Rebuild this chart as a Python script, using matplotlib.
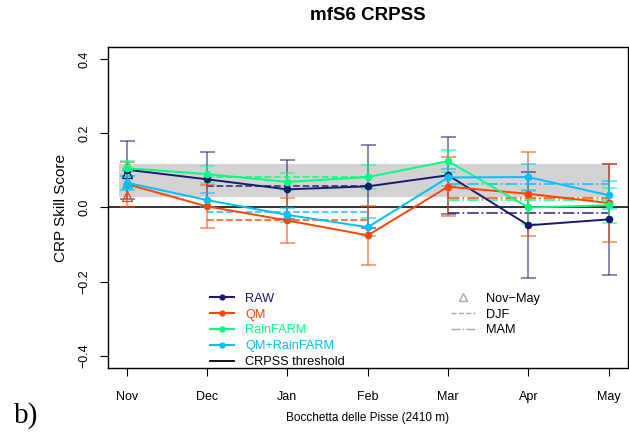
import numpy as np
import matplotlib.pyplot as plt
from matplotlib.lines import Line2D

plt.rcParams['font.family'] = ['Liberation Sans', 'DejaVu Sans']

months = ['Nov', 'Dec', 'Jan', 'Feb', 'Mar', 'Apr', 'May']

# monthly CRPSS and half-width of the error bars
raw = [0.102, 0.076, 0.049, 0.057, 0.087, -0.048, -0.032]
raw_err = [0.078, 0.075, 0.080, 0.111, 0.104, 0.143, 0.149]
qm = [0.063, 0.003, -0.035, -0.075, 0.056, 0.037, 0.012]
qm_err = [0.061, 0.057, 0.060, 0.080, 0.080, 0.114, 0.106]
rf = [0.106, 0.090, 0.069, 0.082, 0.125, 0.000, 0.006]
rf_err = [0.020, 0.023, 0.023, 0.032, 0.030, 0.045, 0.047]
qmrf = [0.067, 0.020, -0.020, -0.053, 0.081, 0.082, 0.033]
qmrf_err = [0.019, 0.018, 0.019, 0.024, 0.022, 0.036, 0.038]

# seasonal scores: Nov-May, DJF, MAM
novmay = [0.093, 0.032, 0.115, 0.065]
djf = [0.058, -0.033, 0.082, -0.012]
mam = [-0.0135, 0.025, 0.020, 0.063]

# CRPSS threshold band
band_lo, band_hi = 0.0285, 0.1166

names = ['RAW', 'QM', 'RainFARM', 'QM+RainFARM']
colors = ['#191970', '#FF4500', '#00FF7F', '#00BFFF']
series = [raw, qm, rf, qmrf]
errors = [raw_err, qm_err, rf_err, qmrf_err]

fig = plt.figure(figsize=(6.29, 4.48), dpi=100)
ax = fig.add_axes([107.5 / 629, 1 - 367.7 / 448, 520.5 / 629, 320.4 / 448])

x = np.arange(1, len(months) + 1)

ax.fill_between([0.9, 7.0], band_lo, band_hi, color='#d3d3d3', lw=0, zorder=0)
ax.axhline(0, color='#222222', lw=1.3, zorder=1)

for i, (y, e, c) in enumerate(zip(series, errors, colors)):
    ax.errorbar(x, y, yerr=e, fmt='none', ecolor=c, alpha=0.65, elinewidth=1.1,
                capsize=5.4, capthick=1.1, zorder=2)
    ax.plot(x, y, '-o', color=c, lw=1.4, ms=4.5, zorder=3)
    ax.plot(x[0], novmay[i], '^', mfc='none', mec=c, ms=7, mew=1.0, zorder=3)
    ax.plot(x[1:4], [djf[i]] * 3, '--', color=c, lw=1.3, alpha=0.8, zorder=2)
    ax.plot(x[4:7], [mam[i]] * 3, '-.', color=c, lw=1.3, alpha=0.8, zorder=2)

ax.set_xlim(0.76, 7.24)
ax.set_ylim(-0.432, 0.432)
ax.set_xticks(x)
ax.set_xticklabels(months, fontsize=9)
ax.set_yticks([-0.4, -0.2, 0.0, 0.2, 0.4])
ax.set_yticklabels(['\u22120.4', '\u22120.2', '0.0', '0.2', '0.4'],
                   fontsize=9, rotation=90, va='center')
ax.tick_params(axis='x', length=6, pad=11)
ax.tick_params(axis='y', length=6, pad=6)
for s in ax.spines.values():
    s.set_linewidth(1.0)

ax.set_ylabel('CRP Skill Score', fontsize=11, labelpad=8)
fig.text(367.7 / 629, 1 - 15 / 448, 'mfS6 CRPSS', fontsize=13.5,
         fontweight='bold', ha='center', va='center')

handles = [Line2D([], [], color=c, marker='o', ms=3.5, lw=1.5) for c in colors]
handles.append(Line2D([], [], color='black', lw=1.3))
leg1 = ax.legend(handles, names + ['CRPSS threshold'], loc='upper left',
                 bbox_to_anchor=(0.197, 0.234), frameon=False, fontsize=9.2,
                 handlelength=1.9, handletextpad=0.85, labelspacing=0.3,
                 borderpad=0, borderaxespad=0,
                 labelcolor=colors + ['black'])
ax.add_artist(leg1)

h2 = [Line2D([], [], color='#aaaaaa', marker='^', mfc='none', ms=6, lw=0),
      Line2D([], [], color='#aaaaaa', ls='--', lw=1.0),
      Line2D([], [], color='#aaaaaa', ls='-.', lw=1.0)]
ax.legend(h2, ['Nov\u2212May', 'DJF', 'MAM'], loc='upper left',
          bbox_to_anchor=(0.66, 0.234), frameon=False, fontsize=9.2,
          handlelength=1.9, handletextpad=0.85, labelspacing=0.3,
          borderpad=0, borderaxespad=0)

fig.text(26 / 629, 1 - 416 / 448, 'b)', fontsize=21, family='Liberation Serif',
         ha='center', va='center')
fig.text(367.7 / 629, 1 - 418 / 448, 'Bocchetta delle Pisse (2410 m)',
         fontsize=8.5, ha='center', va='center')

fig.savefig('out.png', dpi=100)
